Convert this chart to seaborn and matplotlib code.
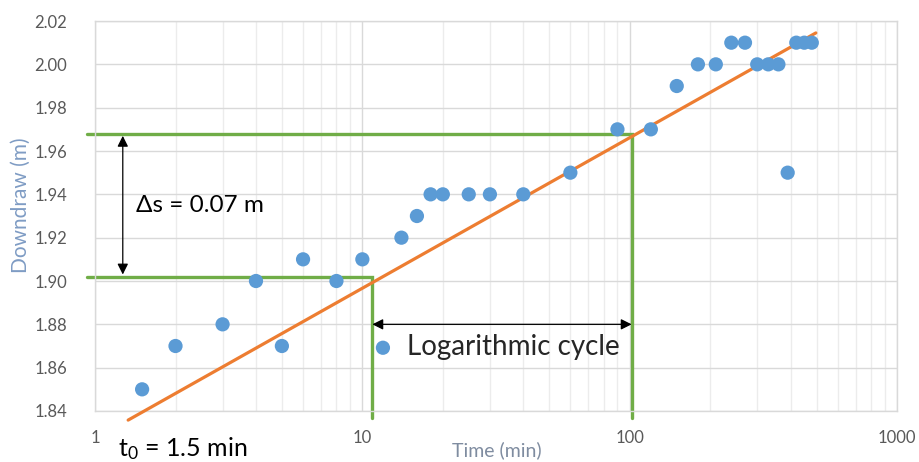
import numpy as np
import pandas as pd
import matplotlib
matplotlib.use("Agg")
import matplotlib.pyplot as plt
import seaborn as sns

# Pumping test data
time_min = [1.5, 2, 3, 4, 5, 6, 8, 10, 14, 16, 18, 20, 25, 30, 40, 60, 90, 120,
            150, 180, 210, 240, 270, 300, 330, 360, 390, 420, 450, 480]
downdraw_m = [1.85, 1.87, 1.88, 1.90, 1.87, 1.91, 1.90, 1.91, 1.92, 1.93, 1.94, 1.94,
              1.94, 1.94, 1.94, 1.95, 1.97, 1.97, 1.99, 2.00, 2.00, 2.01, 2.01, 2.00,
              2.00, 2.00, 1.95, 2.01, 2.01, 2.01]

# straight-line fit (end points)
fit_t = [1.33, 497]
fit_s = [1.8358, 2.0145]

# construction lines: (t at start, t at corner, s level)
cycle_t = [10.9, 101.7]
cycle_s = [1.902, 1.968]

df = pd.DataFrame({"t": time_min, "s": downdraw_m})
fit = pd.DataFrame({"t": fit_t, "s": fit_s})

sns.set_style("white")
plt.rcParams["font.family"] = ["Lato", "DejaVu Sans"]
plt.rcParams["mathtext.fontset"] = "custom"
plt.rcParams["mathtext.rm"] = "Lato"
plt.rcParams["mathtext.it"] = "Lato"
plt.rcParams["mathtext.default"] = "regular"

blue = "#5b9bd5"
orange = "#ed7d31"
green = "#70ad47"

fig = plt.figure(figsize=(9.2, 4.62), dpi=100)
ax = fig.add_axes([0.1033, 0.1104, 0.8717, 0.8441])

sns.scatterplot(data=df, x="t", y="s", ax=ax, color=blue, s=105, edgecolor="none",
                label="Logarithmic cycle", zorder=4)
sns.lineplot(data=fit, x="t", y="s", ax=ax, color=orange, lw=2.3, zorder=3, legend=False)
ax.lines[-1].set_clip_on(False)

ax.set_xscale("log")
ax.set_xlim(1, 1000)
ax.set_ylim(1.84, 2.02)
ax.set_yticks(np.arange(1.84, 2.021, 0.02))
ax.yaxis.set_major_formatter(matplotlib.ticker.FormatStrFormatter("%.2f"))
ax.xaxis.set_major_formatter(matplotlib.ticker.FuncFormatter(lambda v, p: f"{v:g}"))
ax.xaxis.set_minor_formatter(matplotlib.ticker.NullFormatter())

ax.grid(True, which="major", axis="both", color="#d9d9d9", lw=1.0, zorder=0)
ax.grid(True, which="minor", axis="x", color="#ececec", lw=1.0, zorder=0)
ax.set_axisbelow(True)
for sp in ax.spines.values():
    sp.set_color("#d9d9d9")
    sp.set_linewidth(1.0)
ax.tick_params(axis="both", which="both", length=0, labelsize=12, colors="#595959")
ax.tick_params(axis="x", pad=14)
ax.tick_params(axis="y", pad=20)

ax.set_xlabel("Time (min)", fontsize=14, color="#7f8ca0")
ax.xaxis.set_label_coords(0.501, -0.078)
ax.set_ylabel("Downdraw (m)", fontsize=15, color="#7f9cc4")
ax.yaxis.set_label_coords(-0.08, 0.528)

# green construction lines
t_left, s_bottom = 0.93, 1.8368
for tc, sc in zip(cycle_t, cycle_s):
    ax.plot([t_left, tc, tc], [sc, sc, s_bottom], color=green, lw=2.4,
            clip_on=False, zorder=2, solid_joinstyle="miter")

# arrows
ax.annotate("", xy=(1.27, cycle_s[1] - 0.001), xytext=(1.27, cycle_s[0] + 0.001),
            arrowprops=dict(arrowstyle="<|-|>", color="black", lw=0.9,
                            mutation_scale=16, shrinkA=0, shrinkB=0))
ax.annotate("", xy=(cycle_t[1], 1.88), xytext=(cycle_t[0], 1.88),
            arrowprops=dict(arrowstyle="<|-|>", color="black", lw=0.9,
                            mutation_scale=16, shrinkA=0, shrinkB=0))

ax.text(1.42, 1.935, "Δs = 0.07 m", fontsize=17.5, va="center", ha="left", color="black")
ax.text(1.22, 1.8225, "t$_0$ = 1.5 min", fontsize=18, va="center", ha="left",
        color="black", clip_on=False)

leg = ax.legend(loc="center left", bbox_to_anchor=(0.346, 0.164), frameon=False,
                fontsize=20, handlelength=0.75, handletextpad=0.5, borderpad=0,
                borderaxespad=0, markerscale=1.0)

fig.savefig("out.png", dpi=100)
